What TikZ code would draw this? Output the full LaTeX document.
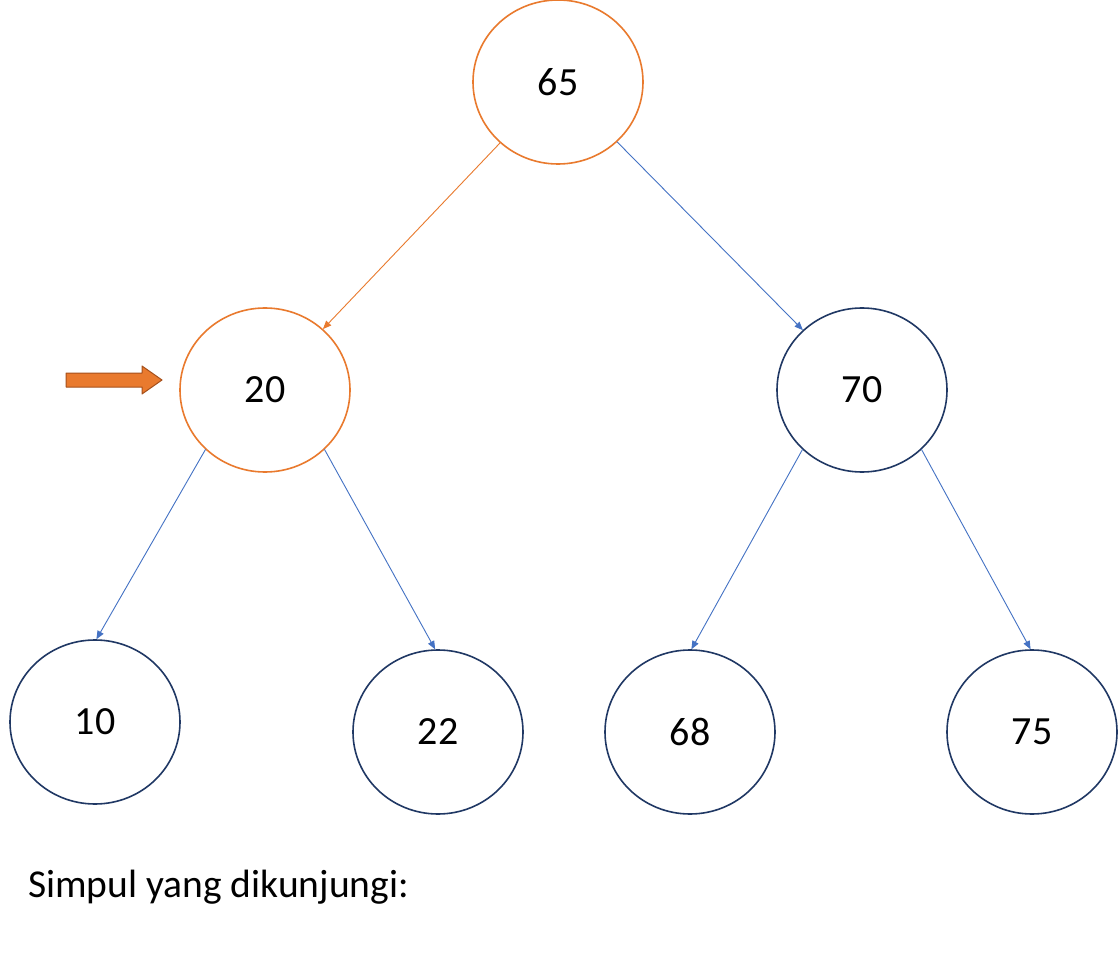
\documentclass[tikz,border=0pt]{standalone}
\usepackage{fontspec}
\setmainfont{Carlito}
\usetikzlibrary{arrows,shapes.geometric}
\definecolor{orng}{HTML}{E97A2E}
\definecolor{dblue}{HTML}{203864}
\definecolor{eblue}{HTML}{4472C4}
\definecolor{arrline}{HTML}{A5501C}
\tikzset{
	vtx/.style={ellipse,draw=dblue,line width=1.6pt,minimum width=170pt,minimum height=164pt,font=\fontsize{40}{46}\selectfont},
	seen/.style={vtx,draw=orng},
	edge/.style={->,>=triangle 45,draw=eblue,line width=0.9pt},
}
\begin{document}
\begin{tikzpicture}[line cap=round,line join=round,x=1pt,y=-1pt]
		\useasboundingbox[fill=white] (0,0) rectangle (1120,960);
		\node[seen] (n65) at (558,82) {65};
		\node[seen] (n20) at (265,390) {20};
		\node[vtx] (n70) at (862,390) {70};
		\node[vtx] (n10) at (95,722) {10};
		\node[vtx] (n22) at (438,732) {22};
		\node[vtx] (n68) at (690,732) {68};
		\node[vtx] (n75) at (1032,732) {75};
		\draw[edge,draw=orng] (n65) -- (n20);
		\draw[edge] (n65) -- (n70);
		\draw[edge] (n20.225) -- (n10.89);
		\draw[edge] (n20.315) -- (n22.92);
		\draw[edge] (n70.225) -- (n68.89);
		\draw[edge] (n70.315) -- (n75.91);
		% pointer to current node
		\draw[fill=orng,draw=arrline,line width=1pt] (66,373) -- (142,373) -- (142,366) -- (162,380) -- (142,394) -- (142,387) -- (66,387) -- cycle;
		\node[anchor=base west,inner sep=0pt,font=\fontsize{39.5}{46}\selectfont] (cap) at (28,897) {Simpul yang dikunjungi:};
\end{tikzpicture}
\end{document}
